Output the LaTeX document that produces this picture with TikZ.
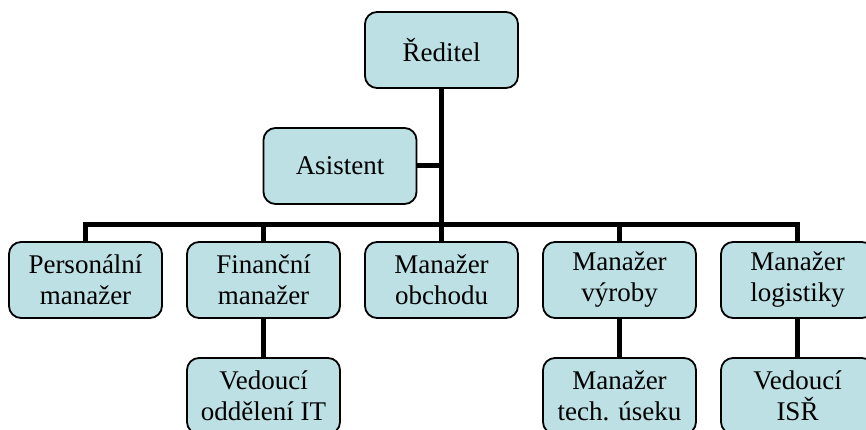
\documentclass[tikz,border=0pt]{standalone}
\usepackage{fontspec}
\setmainfont{Liberation Serif}
\usetikzlibrary{backgrounds}
\definecolor{boxfill}{RGB}{188,224,228}
\begin{document}
\begin{tikzpicture}[x=1pt,y=-1pt,
  orgbox/.style={draw=black, line width=1.8pt, fill=boxfill, rounded corners=12pt,
    minimum width=153pt, minimum height=76pt, inner sep=0pt, align=center,
    font=\fontsize{27}{31}\selectfont},
  link/.style={line width=5pt}]
  \clip (0,0) rectangle (866,430);

  \coordinate (bar) at (0,224);

  \node[orgbox] (ceo) at (441.5,50) {Ředitel};
  \node[orgbox] (asst) at (340,166) {Asistent};

  \node[orgbox] (pers) at (85.5,280) {Personální\\manažer};
  \node[orgbox] (fin)  at (263.5,280) {Finanční\\manažer};
  \node[orgbox] (obch) at (441.5,280) {Manažer\\obchodu};
  \node[orgbox] (vyr)  at (619.5,280) {Manažer\\výroby};
  \node[orgbox] (log)  at (797.5,280) {Manažer\\logistiky};

  \node[orgbox] (it)   at (263.5,396) {Vedoucí\\oddělení IT};
  \node[orgbox] (tech) at (619.5,396) {Manažer\\tech. úseku};
  \node[orgbox] (isr)  at (797.5,396) {Vedoucí\\ISŘ};

  \begin{scope}[on background layer]
    \fill[white] (0,0) rectangle (866,430);
    % trunk from the director down to the middle manager
    \draw[link] (ceo.south) -- (obch.north);
    % assistant branch
    \draw[link] (asst.east) -- (asst.east -| ceo.south);
    % horizontal bar and drops to the managers
    \draw[link] (pers.north) -- (pers.north |- bar) -- (log.north |- bar) -- (log.north);
    \draw[link] (fin.north) -- (fin.north |- bar);
    \draw[link] (vyr.north) -- (vyr.north |- bar);
    % lower level
    \draw[link] (fin.south) -- (it.north);
    \draw[link] (vyr.south) -- (tech.north);
    \draw[link] (log.south) -- (isr.north);
  \end{scope}
\end{tikzpicture}
\end{document}
